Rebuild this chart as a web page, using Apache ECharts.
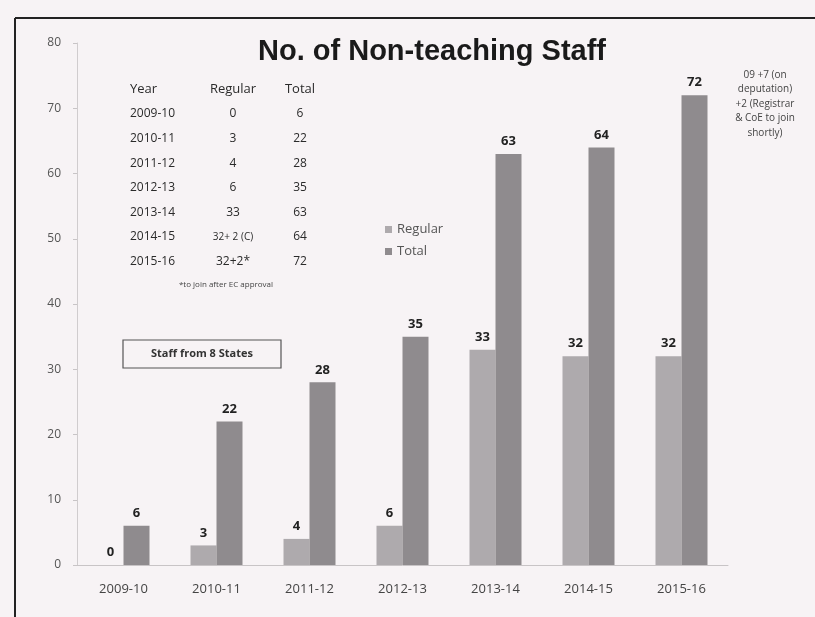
<!DOCTYPE html>
<html>
<head>
<meta charset="utf-8">
<script src="https://cdn.jsdelivr.net/npm/echarts@6/dist/echarts.min.js"></script>
<style>
html,body{margin:0;padding:0;background:#f7f3f5;}
#chart{width:815px;height:617px;}
</style>
</head>
<body>
<div id="chart"></div>
<script>
const categories = ['2009-10','2010-11','2011-12','2012-13','2013-14','2014-15','2015-16'];
const regularValues = [0, 3, 4, 6, 33, 32, 32];
const totalValues = [6, 22, 28, 35, 63, 64, 72];
const yTicks = {min: 0, max: 80, interval: 10};
const tableHeader = ['Year', 'Regular', 'Total'];
const tableRegular = ['0', '3', '4', '6', '33', '32+ 2 (C)', '32+2*'];
const tableTotal = ['6', '22', '28', '35', '63', '64', '72'];
const footnote = '*to join after EC approval';
const noteLines = ['09 +7 (on', 'deputation)', '+2 (Registrar', '& CoE to join', 'shortly)'];
const boxText = 'Staff from 8 States';
const titleText = 'No. of Non-teaching Staff';

const chart = echarts.init(document.getElementById('chart'));
const FONT = "'Open Sans', 'DejaVu Sans', sans-serif";
const graphics = [];

// frame
graphics.push({type:'line', shape:{x1:15,y1:18,x2:815,y2:18}, style:{stroke:'#222', lineWidth:2}, z:10});
graphics.push({type:'line', shape:{x1:15,y1:18,x2:15,y2:617}, style:{stroke:'#222', lineWidth:2}, z:10});

// table header
const colX = [130, 233, 300];
const colAlign = ['left','center','center'];
tableHeader.forEach((h,i)=>{
  graphics.push({type:'text', x:colX[i], y:89, style:{text:h, font:'13px '+FONT, fill:'#2a2a2a', textAlign:colAlign[i], textVerticalAlign:'middle'}});
});
categories.forEach((c,i)=>{
  const y = 114 + i*24.6;
  graphics.push({type:'text', x:colX[0], y:y, style:{text:c, font:'12px '+FONT, fill:'#2a2a2a', textAlign:'left', textVerticalAlign:'middle'}});
  graphics.push({type:'text', x:colX[1], y:y, style:{text:tableRegular[i], font:(i===5?'10px ':'12px ')+FONT, fill:'#2a2a2a', textAlign:'center', textVerticalAlign:'middle'}});
  graphics.push({type:'text', x:colX[2], y:y, style:{text:tableTotal[i], font:'12px '+FONT, fill:'#2a2a2a', textAlign:'center', textVerticalAlign:'middle'}});
});
graphics.push({type:'text', x:226, y:285, style:{text:footnote, font:'8px '+FONT, fill:'#444', textAlign:'center', textVerticalAlign:'middle'}});

// right note
noteLines.forEach((t,i)=>{
  graphics.push({type:'text', x:765, y:75 + i*14.5, style:{text:t, font:'10px '+FONT, fill:'#444', textAlign:'center', textVerticalAlign:'middle'}});
});

// staff box
graphics.push({type:'rect', shape:{x:123,y:340,width:158,height:28}, style:{fill:'transparent', stroke:'#555', lineWidth:1.2}});
graphics.push({type:'text', x:202, y:354, style:{text:boxText, font:'bold 11px '+FONT, fill:'#333', textAlign:'center', textVerticalAlign:'middle'}});

const labelStyle = {show:true, position:'top', distance:6, fontSize:13, fontWeight:'bold', color:'#222', fontFamily:FONT};

chart.setOption({
  backgroundColor:'#f7f3f5',
  animation:false,
  title:{text:titleText, left:427, top:32, textAlign:'center',
    textStyle:{fontSize:29, fontWeight:'bold', color:'#1a1a1a', fontFamily:"'Liberation Sans', Arial, sans-serif"}},
  legend:{orient:'vertical', left:380, top:218, itemWidth:7, itemHeight:7, itemGap:9,
    icon:'rect', textStyle:{fontSize:13, color:'#555', fontFamily:FONT},
    data:['Regular','Total']},
  grid:{left:77, right:87, top:43, bottom:52},
  xAxis:{type:'category', data:categories,
    axisLine:{lineStyle:{color:'#c8c4c6'}}, axisTick:{show:false},
    axisLabel:{fontSize:13, color:'#444', margin:18, fontFamily:FONT}},
  yAxis:{type:'value', min:yTicks.min, max:yTicks.max, interval:yTicks.interval,
    axisLine:{show:true, lineStyle:{color:'#d0ccce'}},
    axisTick:{show:true, length:4, lineStyle:{color:'#c8c4c6'}},
    splitLine:{show:false},
    axisLabel:{fontSize:12, color:'#555', margin:16, fontFamily:FONT}},
  series:[
    {name:'Regular', type:'bar', data:regularValues, barWidth:26, barGap:'0%',
      itemStyle:{color:'#aeaaad'}, label:labelStyle},
    {name:'Total', type:'bar', data:totalValues, barWidth:26, barGap:'0%',
      itemStyle:{color:'#8f8b8e'}, label:labelStyle}
  ],
  graphic:graphics
});
</script>
</body>
</html>
